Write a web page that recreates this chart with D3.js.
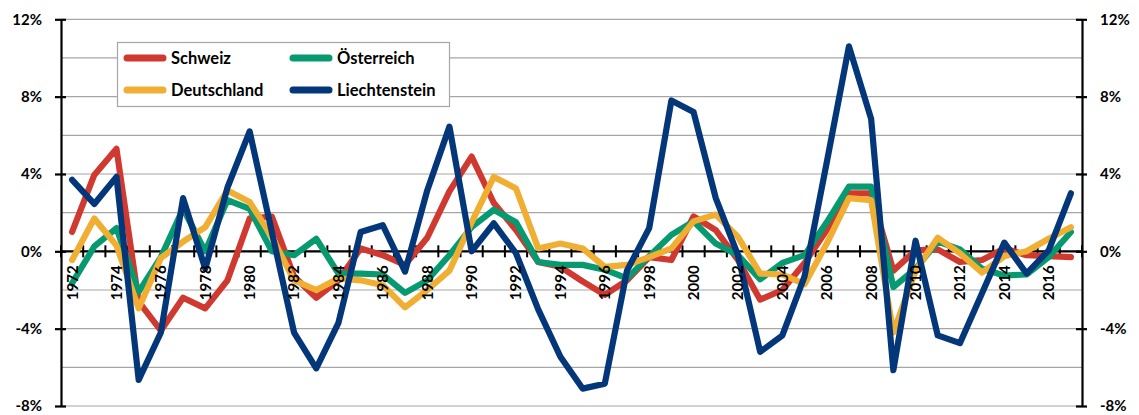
<!DOCTYPE html>
<html>
<head>
<meta charset="utf-8">
<script src="https://cdn.jsdelivr.net/npm/d3@7"></script>
<style>
  html, body { margin: 0; padding: 0; background: #fff; }
  svg { display: block; }
  text { font-family: Lato, "Open Sans", sans-serif; font-weight: 700; fill: #000; }
</style>
</head>
<body>
<svg id="chart" width="1139" height="415"></svg>
<script>
const years = d3.range(1972, 2018);
const yTicks = [-8, -4, 0, 4, 8, 12];
const gridValues = [-8, -6, -4, -2, 0, 2, 4, 6, 8, 10, 12];

const schweiz = [1.0, 3.95, 5.3, -2.6, -4.1, -2.4, -2.95, -1.5, 1.7, 1.8, -1.3, -2.4, -1.5, 0.15, -0.2, -0.7,
  0.7, 3.1, 4.9, 2.5, 1.1, -0.55, -0.8, -1.55, -2.25, -1.5, -0.3, -0.45, 1.8, 1.1, -0.45, -2.5,
  -2.0, -0.6, 1.1, 3.0, 3.0, -1.0, 0.05, 0.1, -0.55, -0.45, 0.15, -0.2, -0.25, -0.3];
const oesterreich = [-1.65, 0.25, 1.2, -2.1, -0.3, 2.2, 0.0, 2.65, 2.2, 0.0, -0.2, 0.65, -1.15, -1.15, -1.2, -2.15,
  -1.5, -0.2, 1.25, 2.15, 1.5, -0.55, -0.7, -0.7, -0.95, -1.4, -0.25, 0.85, 1.55, 0.4, -0.2, -1.45,
  -0.6, -0.2, 1.5, 3.35, 3.35, -1.85, -0.9, 0.5, 0.1, -0.9, -1.25, -1.2, -0.3, 1.0];
const deutschland = [-0.45, 1.7, 0.3, -2.95, -0.35, 0.5, 1.25, 3.15, 2.55, 0.75, -1.5, -2.0, -1.4, -1.5, -1.75, -2.9,
  -2.0, -1.0, 1.5, 3.85, 3.25, 0.15, 0.4, 0.15, -0.8, -0.7, -0.3, 0.15, 1.55, 1.9, 0.75, -1.15,
  -1.2, -1.7, 0.4, 2.75, 2.65, -4.2, -1.0, 0.7, -0.1, -1.1, -0.25, 0.0, 0.65, 1.25];
const liechtenstein = [3.7, 2.45, 3.85, -6.65, -4.2, 2.75, -0.9, 3.3, 6.2, 1.0, -4.2, -6.05, -3.7, 1.0, 1.35, -1.05,
  3.15, 6.45, 0.0, 1.45, -0.1, -3.0, -5.45, -7.1, -6.85, -1.0, 1.2, 7.8, 7.2, 2.75, -0.2, -5.2,
  -4.35, -1.3, 4.6, 10.6, 6.85, -6.15, 0.55, -4.35, -4.75, -2.15, 0.45, -1.15, 0.05, 3.0];

const seriesNames = ["Schweiz", "Österreich", "Deutschland", "Liechtenstein"];
const seriesColors = ["#D0392F", "#07996F", "#F0AE32", "#03377A"];
const seriesValues = [schweiz, oesterreich, deutschland, liechtenstein];

const svg = d3.select("#chart");
const plotL = 61, plotR = 1082, plotT = 19.3, plotB = 406;

const x = d3.scaleBand().domain(years).range([plotL, plotR]);
const y = d3.scaleLinear().domain([-8, 12]).range([plotB, plotT]);

// gridlines
svg.append("g").selectAll("line").data(gridValues).join("line")
  .attr("x1", plotL).attr("x2", plotR)
  .attr("y1", d => y(d)).attr("y2", d => y(d))
  .attr("stroke", "#A6A6A6").attr("stroke-width", 1.2);

// left axis
const yAxisL = d3.axisLeft(y).tickValues(yTicks).tickFormat(d => d + "%").tickSizeInner(0).tickSizeOuter(0).tickPadding(19);
const gL = svg.append("g").attr("transform", `translate(${plotL},0)`).call(yAxisL);
gL.select(".domain").attr("stroke", "#000").attr("stroke-width", 2.2);
gL.selectAll(".tick text").attr("font-size", 15).attr("font-family", "Lato").attr("font-weight", 700);
gL.selectAll(".tick").append("line").attr("x1", -6).attr("x2", 5).attr("stroke", "#000").attr("stroke-width", 2.2);

// right axis
const yAxisR = d3.axisRight(y).tickValues(yTicks).tickFormat(d => d + "%").tickSizeInner(0).tickSizeOuter(0).tickPadding(18);
const gR = svg.append("g").attr("transform", `translate(${plotR},0)`).call(yAxisR);
gR.select(".domain").attr("stroke", "#000").attr("stroke-width", 2.2);
gR.selectAll(".tick text").attr("font-size", 15).attr("font-family", "Lato").attr("font-weight", 700);
gR.selectAll(".tick").append("line").attr("x1", -6).attr("x2", 5).attr("stroke", "#000").attr("stroke-width", 2.2);

// x axis line and ticks at 0%
const boundaries = years.map(d => x(d)).concat([plotR]);
const gx = svg.append("g");
gx.append("line").attr("x1", plotL).attr("x2", plotR).attr("y1", y(0)).attr("y2", y(0))
  .attr("stroke", "#000").attr("stroke-width", 2.2);
gx.selectAll("line.tk").data(boundaries).join("line").attr("class", "tk")
  .attr("x1", d => d).attr("x2", d => d)
  .attr("y1", y(0) - 6).attr("y2", y(0) + 6)
  .attr("stroke", "#000").attr("stroke-width", 2);

// lines
const line = d3.line()
  .x((d, i) => x(years[i]) + x.bandwidth() / 2)
  .y(d => y(d));
svg.append("g").selectAll("path").data(seriesValues).join("path")
  .attr("d", d => line(d))
  .attr("fill", "none")
  .attr("stroke", (d, i) => seriesColors[i])
  .attr("stroke-width", 6.2)
  .attr("stroke-linejoin", "round")
  .attr("stroke-linecap", "round");

// x labels drawn above the lines
svg.append("g").selectAll("text").data(years.filter(d => d % 2 === 0)).join("text")
  .attr("transform", d => `translate(${x(d) + x.bandwidth() / 2},${y(0) + 14}) rotate(-90)`)
  .attr("text-anchor", "end")
  .attr("dy", "0.36em")
  .attr("font-size", 15)
  .text(d => d);

// legend
const lg = svg.append("g");
lg.append("rect").attr("x", 117.5).attr("y", 42.5).attr("width", 332).attr("height", 64)
  .attr("fill", "#fff").attr("stroke", "#A6A6A6").attr("stroke-width", 1.2);
const legendPos = [[125, 58], [291, 58], [125, 90], [291, 90]];
seriesNames.forEach((name, i) => {
  const [lx, ly] = legendPos[i];
  lg.append("line").attr("x1", lx + 2).attr("x2", lx + 38).attr("y1", ly).attr("y2", ly)
    .attr("stroke", seriesColors[i]).attr("stroke-width", 7).attr("stroke-linecap", "round");
  lg.append("text").attr("x", lx + 46).attr("y", ly).attr("dy", "0.36em")
    .attr("font-size", 16.5).text(name);
});
</script>
</body>
</html>
